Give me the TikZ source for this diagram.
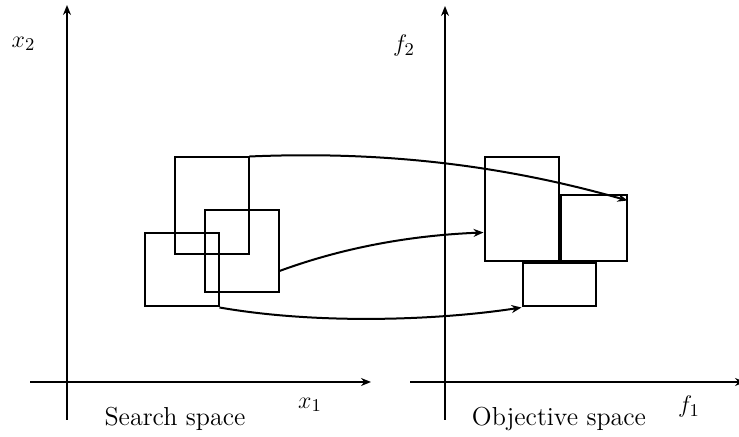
\documentclass[tikz,border=0pt]{standalone}
\usetikzlibrary{arrows.meta}
\begin{document}
\begin{tikzpicture}[x=0.5pt,y=-0.5pt,
  ln/.style={line width=1pt},
  axis/.style={ln,-{Stealth[length=5pt,width=4pt]}},
  conn/.style={ln,-{Stealth[length=5pt,width=4pt]}},
  box/.style={draw,ln,inner sep=0pt,rectangle},
  lab/.style={font=\fontsize{13}{15}\selectfont,inner sep=0pt}]
\useasboundingbox (0,0) rectangle (739,437);
% axes
\coordinate (l0) at (67,420); \coordinate (l1) at (67,5);
\coordinate (l2) at (30,382); \coordinate (l3) at (371,382);
\coordinate (r0) at (445,420); \coordinate (r1) at (445,6);
\coordinate (r2) at (410,382); \coordinate (r3) at (745,382);
\draw[axis] (l0) -- (l1);
\draw[axis] (l2) -- (l3);
\draw[axis] (r0) -- (r1);
\draw[axis] (r2) -- (r3);
% labels
\node[lab] (x2) at (23.5,44) {$x_2$};
\node[lab] (x1) at (310,405) {$x_1$};
\node[lab] (f2) at (404,46) {$f_2$};
\node[lab] (f1) at (689,407) {$f_1$};
\node[lab,anchor=base] (ss) at (175,426) {Search space};
\node[lab,anchor=base] (os) at (559,426) {Objective space};
% boxes
\node[box,minimum width=37pt,minimum height=48.25pt] (A) at (211.5,205.75) {};
\node[box,minimum width=36.75pt,minimum height=40.75pt] (B) at (241.75,251.25) {};
\node[box,minimum width=37pt,minimum height=36.75pt] (C) at (181.5,269.75) {};
\node[box,minimum width=37pt,minimum height=52pt] (D) at (521.5,209.5) {};
\node[box,minimum width=33pt,minimum height=33pt] (E) at (593.5,228.5) {};
\node[box,minimum width=36.75pt,minimum height=21.5pt] (F) at (559.25,285) {};
% connectors
\draw[conn] (A.north east) .. controls (400,150) and (520,170) .. ([yshift=-3pt]E.north east);
\draw[conn] ([yshift=11pt]B.south east) .. controls (350,245) and (420,235) .. ([yshift=-11.5pt]D.west);
\draw[conn] (C.south east) .. controls (320,325) and (440,320) .. (F.south west);
\end{tikzpicture}
\end{document}
